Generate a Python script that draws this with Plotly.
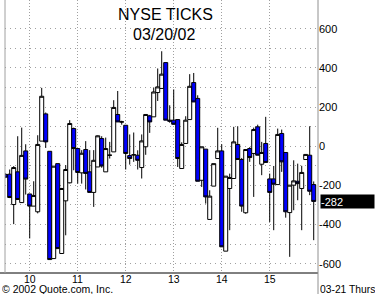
import plotly.graph_objects as go
import pandas as pd

# 5-minute bars, NYSE TICKS 03/20/02
times = pd.date_range("2002-03-20 09:30", periods=78, freq="5min")

open_ = [-145, -143, -298, -131, -288, -24, -244, -306, -335, 26,
         165, -26, -574, -89, -548, -279, -187, 90, -12, -136,
         -17, -131, -236, -106, 39, -131, -46, -29, 162, 124,
         107, -48, -44, -46, -109, -3, 155, 150, 274, 295,
         427, 133, 133, 136, -114, 14, 136, 325, 244, -174,
         -15, -374, -204, -63, -24, -536, -216, -165, 9, -68,
         -340, -12, -37, 99, -92, 14, -167, -167, -196, 65,
         -32, -339, -199, -179, -216, -68, -46, -196]
high = [-138, -119, -102, 51, 95, 10, -244, -179, 56, 298,
        172, -26, -102, -89, -213, -97, 133, 95, -12, -20,
        26, -20, -20, 55, 51, 44, 22, 235, 282, 130,
        107, 60, 70, -21, 60, 162, 160, 300, 397, 485,
        427, 209, 290, 136, 20, 153, 368, 374, 260, -3,
        -15, -225, -89, 94, 10, -153, -140, 99, 102, -60,
        -17, -5, 95, 110, 22, 150, -140, -101, 90, 85,
        -32, -199, -72, -89, -100, -40, 102, -180]
low = [-163, -265, -398, -275, -290, -247, -471, -306, -343, 26,
       -9, -579, -574, -523, -548, -455, -190, -123, -191, -191,
       -221, -236, -310, -106, -110, -131, -63, -29, 124, 110,
       -119, -94, -80, -119, -165, -44, 68, 150, 231, 295,
       133, 120, 110, -106, -114, 14, 136, 226, -179, -208,
       -293, -374, -204, -63, -514, -536, -429, -165, -68, -335,
       -345, -80, -259, -46, -148, -83, -387, -429, -196, -131,
       -365, -565, -327, -276, -429, -68, -250, -480]
close = [-158, -262, -109, -272, -47, -168, -306, -252, 9, 255,
         22, -579, -102, -523, -216, -119, 116, -12, -134, -36,
         -139, -236, -72, 53, -101, -12, -46, 198, 124, 124,
         -37, -63, -44, -72, 27, 162, 124, 277, 303, 368,
         133, 128, 112, -63, 9, 133, 306, 226, -179, -3,
         -259, -255, -89, -24, -514, -153, -160, 22, -68, -306,
         -17, -58, 85, -46, -32, -83, -236, -194, 60, -80,
         -335, -199, -177, -191, -134, -42, -230, -282]

hour_ticks = ["2002-03-20 %02d:00" % h for h in range(10, 16)]
hour_labels = ["10", "11", "12", "13", "14", "15"]
y_ticks = [-600, -400, -200, 0, 200, 400, 600]
y_minor = [-500, -300, -100, 100, 300, 500]
last_value = close[-1]

FONT = "Arial, Liberation Sans, sans-serif"
GRID = "#a0a0a0"
PLOT_H = 273.0


def py(px):
    """paper y from a pixel row (plot area spans rows 0..273)."""
    return (PLOT_H - px) / PLOT_H


def pxx(px):
    """paper x from a pixel column (plot area spans columns 5..318)."""
    return (px - 5) / 313.0


fig = go.Figure(go.Candlestick(
    x=times, open=open_, high=high, low=low, close=close,
    increasing=dict(line=dict(color="black", width=1), fillcolor="white"),
    decreasing=dict(line=dict(color="black", width=1), fillcolor="#0000ff"),
    whiskerwidth=0, hoverinfo="skip", showlegend=False))

annotations = [
    dict(text="NYSE TICKS", xref="paper", yref="paper", x=pxx(165),
         y=py(14.5), xanchor="center", yanchor="middle",
         showarrow=False, font=dict(family=FONT, size=16, color="black")),
    dict(text="03/20/02", xref="paper", yref="paper", x=pxx(164),
         y=py(34.5), xanchor="center", yanchor="middle",
         showarrow=False, font=dict(family=FONT, size=16, color="black")),
    dict(text="\u00a9 2002 Quote.com, Inc.", xref="paper", yref="paper",
         x=pxx(1), y=py(288.9), xanchor="left", yanchor="middle",
         showarrow=False, height=10, borderpad=0,
         font=dict(family=FONT, size=10.5, color="black")),
    dict(text="03-21 Thurs", xref="paper", yref="paper",
         x=pxx(318.5), y=py(288.9), xanchor="left", yanchor="middle",
         showarrow=False, height=10, borderpad=0,
         font=dict(family=FONT, size=10.3, color="black")),
    dict(text=str(last_value), xref="paper", yref="y",
         x=pxx(320), y=last_value, xanchor="left", yanchor="middle",
         showarrow=False, bgcolor="black", width=53, height=13, align="left",
         borderpad=0, font=dict(family=FONT, size=11, color="white")),
]
for tv, tl in zip(hour_ticks, hour_labels):
    annotations.append(dict(text=tl, xref="x", yref="paper", x=tv, y=py(278.8),
                            xanchor="center", yanchor="middle", showarrow=False,
                            height=9, borderpad=0,
                            font=dict(family=FONT, size=10.5, color="black")))

fig.update_layout(
    width=375, height=294,
    margin=dict(l=5, r=57, t=0, b=21, pad=0),
    paper_bgcolor="white", plot_bgcolor="white",
    boxgap=0, boxgroupgap=0,
    showlegend=False,
    font=dict(family=FONT, size=11, color="black"),
    xaxis=dict(
        type="date",
        range=["2002-03-20 09:29:07", "2002-03-20 16:00:22"],
        rangeslider=dict(visible=False),
        tickvals=hour_ticks, ticktext=hour_labels, showticklabels=False,
        showgrid=True, gridcolor=GRID, griddash="1px,2px", gridwidth=1,
        showline=False, zeroline=False, ticks="",
        automargin=False,
    ),
    yaxis=dict(
        side="right",
        range=[-647.6, 746.7],
        tickvals=y_ticks, ticktext=[str(v) for v in y_ticks],
        showgrid=True, gridcolor=GRID, griddash="1px,4px", gridwidth=1,
        minor=dict(tickvals=y_minor, showgrid=True, gridcolor=GRID,
                   griddash="1px,4px", gridwidth=1, ticks=""),
        showline=False, zeroline=False, ticks="",
        tickfont=dict(family=FONT, size=11, color="black"),
        automargin=False,
    ),
    shapes=[
        dict(type="line", xref="paper", yref="paper", x0=-0.02, x1=1, y0=0, y1=0,
             line=dict(color="black", width=1)),
        dict(type="line", xref="paper", yref="paper", x0=0, x1=0, y0=0, y1=1,
             line=dict(color="#a0a0a0", width=1)),
        dict(type="line", xref="paper", yref="paper", x0=1, x1=1, y0=-0.08, y1=1,
             line=dict(color="#909090", width=1)),
    ],
    annotations=annotations,
)

fig.write_html("out.html")
